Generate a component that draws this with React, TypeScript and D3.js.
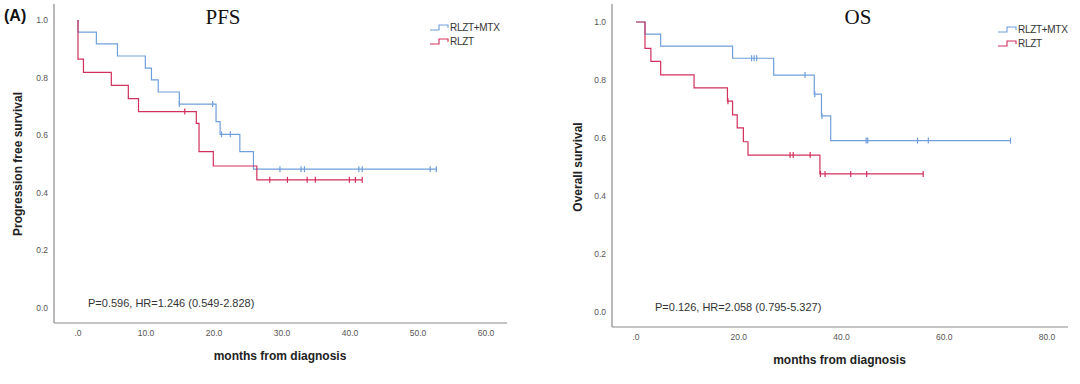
import React from 'react';
import * as d3 from 'd3';

// PFS, RLZT+MTX
const pfsComboEventTimes = [0, 2.7, 5.8, 9.9, 10.8, 11.8, 14.9, 20.3, 20.9, 23.8, 25.8];
const pfsComboSurvival = [0.958, 0.917, 0.875, 0.833, 0.792, 0.75, 0.708, 0.647, 0.603, 0.543, 0.482];
const pfsComboCensored = [14.9, 19.8, 21.1, 22.4, 29.7, 32.8, 33.3, 41.3, 41.8, 51.8, 52.7];
const pfsComboEnd = 52.8;

// PFS, RLZT
const pfsRlztEventTimes = [0, 0.8, 4.9, 7.4, 8.9, 17.4, 17.8, 19.9, 26.3];
const pfsRlztSurvival = [0.864, 0.818, 0.773, 0.727, 0.682, 0.641, 0.543, 0.493, 0.445];
const pfsRlztCensored = [15.7, 28.2, 30.8, 33.7, 34.9, 39.9, 40.8, 41.8];
const pfsRlztEnd = 41.8;

// OS, RLZT+MTX
const osComboEventTimes = [1.75, 4.8, 18.8, 26.8, 34.7, 36.1, 37.9];
const osComboSurvival = [0.958, 0.917, 0.875, 0.817, 0.751, 0.676, 0.591];
const osComboCensored = [22.5, 23.0, 23.5, 32.9, 34.8, 36.2, 44.8, 45.1, 54.8, 56.9, 72.9];
const osComboEnd = 72.9;

// OS, RLZT
const osRlztEventTimes = [1.75, 2.9, 4.8, 11.3, 17.8, 18.8, 19.7, 20.9, 21.8, 35.8];
const osRlztSurvival = [0.909, 0.864, 0.818, 0.773, 0.727, 0.68, 0.635, 0.587, 0.541, 0.476];
const osRlztCensored = [17.9, 30.0, 30.6, 33.9, 35.9, 36.8, 41.8, 44.9, 55.9];
const osRlztEnd = 55.9;

const yTicks = [0, 0.2, 0.4, 0.6, 0.8, 1.0];
const pfsXTicks = [0, 10, 20, 30, 40, 50, 60];
const osXTicks = [0, 20, 40, 60, 80];
const seriesNames = ['RLZT+MTX', 'RLZT'];

const BLUE = '#6f9fdc';
const RED = '#d2305c';
const FONT = 'Liberation Sans, Arial, sans-serif';

type Curve = { times: number[]; surv: number[]; censored: number[]; end: number; color: string };

const fmt = (v: number) => (v === 0 ? '.0' : v.toFixed(1));

const stepPoints = (c: Curve) => {
  const pts: [number, number][] = [[0, 1]];
  c.times.forEach((t, i) => pts.push([t, c.surv[i]]));
  pts.push([c.end, c.surv[c.surv.length - 1]]);
  return pts;
};

const survAt = (c: Curve, t: number) => {
  let s = 1;
  c.times.forEach((et, i) => {
    if (et <= t) s = c.surv[i];
  });
  return s;
};

const Panel = (props: {
  curves: Curve[];
  xMax: number;
  xTicks: number[];
  xRange: [number, number];
  yRange: [number, number];
  axisX: number;
  axisY: number;
  axisEnd: number;
  yLabel: string;
  yLabelX: number;
  title: string;
  titleX: number;
  pText: string;
  pX: number;
  legendX: number;
  legendY: number;
}) => {
  const x = d3.scaleLinear().domain([0, props.xMax]).range(props.xRange);
  const y = d3.scaleLinear().domain([0, 1]).range(props.yRange);
  const line = d3
    .line<[number, number]>()
    .x((d) => x(d[0]))
    .y((d) => y(d[1]))
    .curve(d3.curveStepAfter);
  const midX = (props.xRange[0] + props.xRange[1]) / 2;
  const midY = (props.yRange[0] + props.yRange[1]) / 2;

  return (
    <g>
      <text x={props.titleX} y={24} textAnchor="middle" fontFamily="Liberation Serif, Times New Roman, serif" fontSize={21} fill="#111">
        {props.title}
      </text>
      {/* axes */}
      <line x1={props.axisX} x2={props.axisX} y1={4} y2={props.axisY} stroke="#8a8a8a" strokeWidth={1.2} />
      <line x1={props.axisX} x2={props.axisEnd} y1={props.axisY} y2={props.axisY} stroke="#8a8a8a" strokeWidth={1.2} />
      {yTicks.map((t) => (
        <text key={t} x={props.axisX - 6} y={y(t) + 3} textAnchor="end" fontFamily={FONT} fontSize={8.5} fill="#555">
          {t.toFixed(1)}
        </text>
      ))}
      {props.xTicks.map((t) => (
        <text key={t} x={x(t)} y={props.axisY + 13} textAnchor="middle" fontFamily={FONT} fontSize={8.5} fill="#555">
          {fmt(t)}
        </text>
      ))}
      <text
        transform={`translate(${props.yLabelX},${midY}) rotate(-90)`}
        textAnchor="middle"
        fontFamily={FONT}
        fontWeight="bold"
        fontSize={12}
        fill="#222"
      >
        {props.yLabel}
      </text>
      <text x={midX - 2} y={props.axisY + 37} textAnchor="middle" fontFamily={FONT} fontWeight="bold" fontSize={12} fill="#222">
        months from diagnosis
      </text>
      <text x={props.pX} y={props.axisY - 16} fontFamily={FONT} fontSize={11} fill="#333">
        {props.pText}
      </text>
      {/* curves */}
      {props.curves.map((c, i) => (
        <g key={i}>
          <path d={line(stepPoints(c)) || ''} fill="none" stroke={c.color} strokeWidth={1.2} />
          {c.censored.map((t, j) => (
            <line key={j} x1={x(t)} x2={x(t)} y1={y(survAt(c, t)) - 3} y2={y(survAt(c, t)) + 3} stroke={c.color} strokeWidth={1.2} />
          ))}
        </g>
      ))}
      {/* legend */}
      {seriesNames.map((name, i) => {
        const ly = props.legendY + i * 14;
        const lx = props.legendX;
        return (
          <g key={name}>
            <path
              d={`M${lx},${ly + 3}H${lx + 9}V${ly - 2}H${lx + 18}V${ly + 1}`}
              fill="none"
              stroke={props.curves[i].color}
              strokeWidth={1.1}
            />
            <text x={lx + 20} y={ly + 4} fontFamily={FONT} fontSize={10} fill="#333" letterSpacing={-0.3}>
              {name}
            </text>
          </g>
        );
      })}
    </g>
  );
};

export default function App() {
  const pfsCurves: Curve[] = [
    { times: pfsComboEventTimes, surv: pfsComboSurvival, censored: pfsComboCensored, end: pfsComboEnd, color: BLUE },
    { times: pfsRlztEventTimes, surv: pfsRlztSurvival, censored: pfsRlztCensored, end: pfsRlztEnd, color: RED },
  ];
  const osCurves: Curve[] = [
    { times: osComboEventTimes, surv: osComboSurvival, censored: osComboCensored, end: osComboEnd, color: BLUE },
    { times: osRlztEventTimes, surv: osRlztSurvival, censored: osRlztCensored, end: osRlztEnd, color: RED },
  ];
  return (
    <svg width={1080} height={384} style={{ position: 'absolute', left: 0, top: 0, background: '#fff' }}>
      <text x={4} y={21} fontFamily={FONT} fontWeight="bold" fontSize={16} fill="#111">
        (A)
      </text>
      <Panel
        curves={pfsCurves}
        xMax={60}
        xTicks={pfsXTicks}
        xRange={[78, 486]}
        yRange={[308, 20]}
        axisX={54}
        axisY={323}
        axisEnd={507}
        yLabel="Progression free survival"
        yLabelX={22}
        title="PFS"
        titleX={223}
        pText="P=0.596, HR=1.246 (0.549-2.828)"
        pX={88}
        legendX={430}
        legendY={27}
      />
      <Panel
        curves={osCurves}
        xMax={80}
        xTicks={osXTicks}
        xRange={[636, 1047]}
        yRange={[312, 22]}
        axisX={612}
        axisY={327}
        axisEnd={1068}
        yLabel="Overall survival"
        yLabelX={582}
        title="OS"
        titleX={858}
        pText="P=0.126, HR=2.058 (0.795-5.327)"
        pX={655}
        legendX={998}
        legendY={29}
      />
    </svg>
  );
}
